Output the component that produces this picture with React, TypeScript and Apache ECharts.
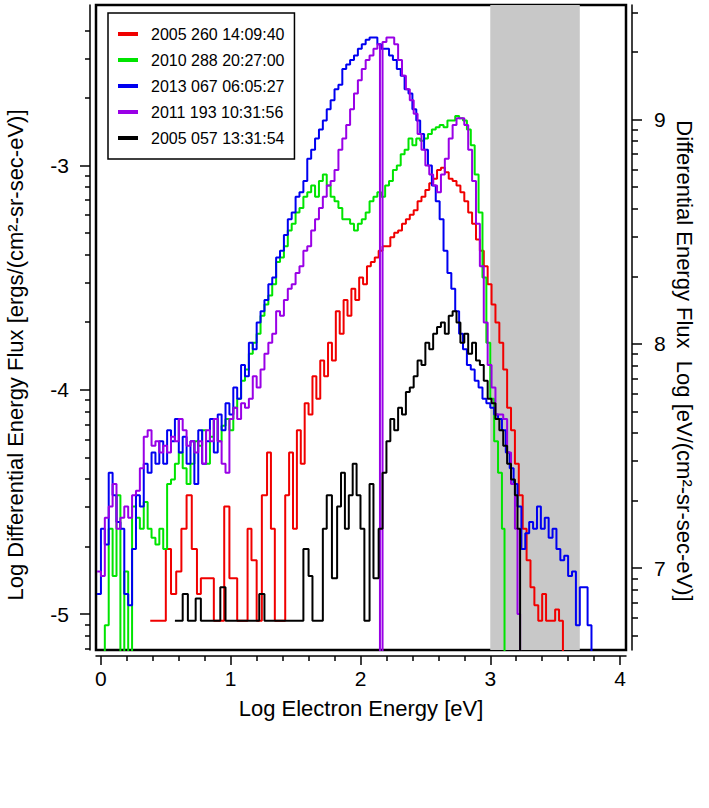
import React, { useEffect, useRef } from "react";
import * as echarts from "echarts";

const FONT = "'Liberation Sans', Arial, Helvetica, sans-serif";

const legendNames = [
  "2005 260 14:09:40",
  "2010 288 20:27:00",
  "2013 067 06:05:27",
  "2011 193 10:31:56",
  "2005 057 13:31:54",
];
const lineColors = ["#f00000", "#00e400", "#0000f0", "#9900e6", "#000000"];

// [log energy, log flux (ergs)]
const red: [number, number][] = [
  [0.38, -5.03], [0.5, -4.71], [0.54, -4.91], [0.58, -4.81], [0.62, -4.62], [0.66, -4.47],
  [0.7, -4.71], [0.74, -4.91], [0.77, -4.84], [0.87, -5.03], [0.95, -4.52], [0.99, -4.84],
  [1.05, -5.03], [1.13, -4.62], [1.16, -4.76], [1.2, -5.03], [1.24, -4.47], [1.28, -4.28],
  [1.31, -4.62], [1.34, -5.03], [1.42, -4.47], [1.45, -4.28], [1.48, -4.62], [1.51, -4.18],
  [1.54, -4.33], [1.57, -4.06], [1.6, -4.11], [1.63, -3.94], [1.66, -4.04], [1.69, -3.87],
  [1.72, -3.94], [1.75, -3.79], [1.78, -3.87], [1.81, -3.65], [1.84, -3.75], [1.87, -3.6],
  [1.9, -3.67], [1.93, -3.55], [1.96, -3.6], [1.99, -3.5], [2.02, -3.53], [2.05, -3.45],
  [2.08, -3.43], [2.11, -3.41], [2.14, -3.38], [2.17, -3.36], [2.2, -3.36], [2.23, -3.32],
  [2.26, -3.3], [2.29, -3.29], [2.32, -3.26], [2.35, -3.24], [2.38, -3.22], [2.41, -3.2],
  [2.44, -3.16], [2.47, -3.14], [2.5, -3.11], [2.53, -3.08], [2.56, -3.06], [2.59, -3.02],
  [2.62, -3.01], [2.65, -3.03], [2.68, -3.06], [2.71, -3.07], [2.74, -3.09], [2.77, -3.12],
  [2.8, -3.16], [2.83, -3.21], [2.86, -3.26], [2.89, -3.33], [2.92, -3.38], [2.95, -3.45],
  [2.98, -3.53], [3.01, -3.62], [3.04, -3.7], [3.07, -3.79], [3.1, -3.91], [3.13, -4.08],
  [3.16, -4.18], [3.19, -4.33], [3.22, -4.47], [3.25, -4.62], [3.28, -4.76], [3.31, -4.88],
  [3.34, -4.96], [3.37, -5.03], [3.4, -4.91], [3.43, -5.03], [3.5, -4.98], [3.53, -5.03],
  [3.56, -5.3],
];

const green: [number, number][] = [
  [-0.03, -5.3], [0.03, -5.05], [0.06, -4.62], [0.09, -4.83], [0.12, -4.47], [0.15, -5.3],
  [0.18, -4.81], [0.21, -5.3], [0.24, -4.52], [0.27, -4.57], [0.3, -4.62], [0.33, -4.5],
  [0.36, -4.62], [0.39, -4.66], [0.42, -4.69], [0.45, -4.62], [0.48, -4.71], [0.51, -4.42],
  [0.54, -4.4], [0.57, -4.33], [0.6, -4.28], [0.63, -4.35], [0.66, -4.42], [0.69, -4.33],
  [0.72, -4.23], [0.75, -4.25], [0.78, -4.18], [0.81, -4.33], [0.84, -4.21], [0.87, -4.13],
  [0.9, -4.23], [0.93, -4.16], [0.96, -4.13], [0.99, -4.18], [1.02, -4.08], [1.05, -4.04],
  [1.08, -3.96], [1.11, -3.91], [1.14, -3.84], [1.17, -3.79], [1.2, -3.75], [1.23, -3.67],
  [1.26, -3.62], [1.29, -3.58], [1.32, -3.53], [1.35, -3.43], [1.38, -3.41], [1.41, -3.36],
  [1.44, -3.29], [1.47, -3.26], [1.5, -3.21], [1.53, -3.19], [1.56, -3.14], [1.59, -3.12],
  [1.62, -3.09], [1.65, -3.14], [1.68, -3.07], [1.71, -3.04], [1.74, -3.09], [1.77, -3.14],
  [1.8, -3.16], [1.83, -3.19], [1.86, -3.24], [1.89, -3.24], [1.92, -3.26], [1.95, -3.29],
  [1.98, -3.26], [2.01, -3.24], [2.04, -3.21], [2.07, -3.16], [2.1, -3.14], [2.13, -3.12],
  [2.16, -3.14], [2.19, -3.09], [2.22, -3.07], [2.25, -3.02], [2.28, -3.0], [2.31, -2.95],
  [2.34, -2.93], [2.37, -2.88], [2.4, -2.91], [2.43, -2.88], [2.46, -2.89], [2.49, -2.88],
  [2.52, -2.86], [2.55, -2.84], [2.58, -2.83], [2.61, -2.82], [2.64, -2.83], [2.67, -2.8],
  [2.7, -2.8], [2.73, -2.78], [2.76, -2.79], [2.79, -2.8], [2.82, -2.84], [2.85, -2.91],
  [2.88, -3.04], [2.91, -3.21], [2.94, -3.5], [2.97, -3.79], [3.0, -4.04], [3.03, -4.23],
  [3.06, -4.37], [3.09, -4.62], [3.11, -5.3],
];

const blue: [number, number][] = [
  [-0.03, -4.91], [0.0, -4.62], [0.03, -4.69], [0.06, -4.37], [0.09, -4.47], [0.12, -4.59],
  [0.15, -4.62], [0.18, -4.91], [0.21, -4.96], [0.24, -4.71], [0.27, -4.47], [0.3, -4.52],
  [0.33, -4.33], [0.36, -4.37], [0.39, -4.28], [0.42, -4.33], [0.45, -4.23], [0.48, -4.33],
  [0.51, -4.18], [0.54, -4.23], [0.57, -4.13], [0.6, -4.28], [0.63, -4.21], [0.66, -4.33],
  [0.69, -4.23], [0.72, -4.42], [0.75, -4.18], [0.78, -4.33], [0.81, -4.23], [0.84, -4.13],
  [0.87, -4.28], [0.9, -4.11], [0.93, -4.18], [0.96, -4.06], [0.99, -4.11], [1.02, -3.99],
  [1.05, -4.04], [1.08, -3.89], [1.11, -3.94], [1.14, -3.79], [1.17, -3.82], [1.2, -3.7],
  [1.23, -3.65], [1.26, -3.6], [1.29, -3.53], [1.32, -3.5], [1.35, -3.41], [1.38, -3.38],
  [1.41, -3.31], [1.44, -3.24], [1.47, -3.21], [1.5, -3.14], [1.53, -3.12], [1.56, -3.07],
  [1.59, -2.97], [1.62, -2.93], [1.65, -2.88], [1.68, -2.84], [1.71, -2.8], [1.74, -2.75],
  [1.77, -2.71], [1.8, -2.66], [1.83, -2.64], [1.86, -2.57], [1.89, -2.55], [1.92, -2.53],
  [1.95, -2.51], [1.98, -2.48], [2.01, -2.46], [2.04, -2.44], [2.07, -2.43], [2.1, -2.43],
  [2.13, -2.46], [2.16, -2.48], [2.19, -2.48], [2.22, -2.51], [2.25, -2.53], [2.28, -2.57],
  [2.31, -2.6], [2.34, -2.66], [2.37, -2.68], [2.4, -2.75], [2.43, -2.8], [2.46, -2.86],
  [2.49, -2.93], [2.52, -3.0], [2.55, -3.09], [2.58, -3.16], [2.61, -3.24], [2.64, -3.38],
  [2.67, -3.48], [2.7, -3.55], [2.73, -3.65], [2.76, -3.75], [2.79, -3.82], [2.82, -3.89],
  [2.85, -3.91], [2.88, -3.96], [2.91, -3.99], [2.94, -4.04], [2.97, -4.06], [3.0, -4.08],
  [3.03, -4.11], [3.06, -4.13], [3.09, -4.18], [3.12, -4.28], [3.15, -4.35], [3.18, -4.42],
  [3.21, -4.52], [3.24, -4.71], [3.27, -4.64], [3.3, -4.59], [3.33, -4.62], [3.36, -4.52],
  [3.39, -4.62], [3.42, -4.57], [3.45, -4.66], [3.48, -4.62], [3.51, -4.71], [3.54, -4.76],
  [3.57, -4.74], [3.6, -4.83], [3.63, -4.81], [3.66, -5.05], [3.69, -4.88], [3.72, -4.88],
  [3.75, -5.05], [3.78, -5.3],
];

const purple: [number, number][] = [
  [-0.03, -4.81], [0.0, -4.83], [0.03, -4.57], [0.06, -4.52], [0.09, -4.42], [0.12, -4.62],
  [0.15, -4.57], [0.18, -4.52], [0.21, -4.57], [0.24, -4.47], [0.27, -4.45], [0.3, -4.35],
  [0.33, -4.21], [0.36, -4.18], [0.39, -4.25], [0.42, -4.23], [0.45, -4.28], [0.48, -4.25],
  [0.51, -4.28], [0.54, -4.21], [0.57, -4.23], [0.6, -4.13], [0.63, -4.18], [0.66, -4.25],
  [0.69, -4.23], [0.72, -4.28], [0.75, -4.23], [0.78, -4.33], [0.81, -4.18], [0.84, -4.23],
  [0.87, -4.13], [0.9, -4.23], [0.93, -4.33], [0.96, -4.37], [0.99, -4.13], [1.02, -4.08],
  [1.05, -4.13], [1.08, -4.06], [1.11, -4.08], [1.14, -4.04], [1.17, -3.94], [1.2, -3.99],
  [1.23, -3.91], [1.26, -3.84], [1.29, -3.79], [1.32, -3.75], [1.35, -3.65], [1.38, -3.67],
  [1.41, -3.6], [1.44, -3.55], [1.47, -3.53], [1.5, -3.48], [1.53, -3.45], [1.56, -3.38],
  [1.59, -3.36], [1.62, -3.29], [1.65, -3.24], [1.68, -3.19], [1.71, -3.14], [1.74, -3.09],
  [1.77, -3.07], [1.8, -3.02], [1.83, -2.93], [1.86, -2.88], [1.89, -2.82], [1.92, -2.75],
  [1.95, -2.68], [1.98, -2.62], [2.01, -2.57], [2.04, -2.53], [2.07, -2.51], [2.1, -2.48],
  [2.13, -2.46], [2.15, -5.3], [2.17, -2.45], [2.2, -2.43], [2.23, -2.43], [2.26, -2.46],
  [2.29, -2.53], [2.32, -2.6], [2.35, -2.66], [2.38, -2.71], [2.41, -2.77], [2.44, -2.86],
  [2.47, -2.93], [2.5, -3.0], [2.53, -3.04], [2.56, -3.09], [2.59, -3.12], [2.62, -3.04],
  [2.65, -2.97], [2.68, -2.88], [2.71, -2.82], [2.74, -2.79], [2.77, -2.79], [2.8, -2.82],
  [2.83, -2.93], [2.86, -3.07], [2.89, -3.26], [2.92, -3.45], [2.95, -3.7], [2.98, -3.89],
  [3.01, -3.99], [3.04, -4.11], [3.07, -4.11], [3.1, -4.13], [3.13, -4.28], [3.16, -4.42],
  [3.19, -4.62], [3.21, -5.0], [3.23, -5.3],
];

const black: [number, number][] = [
  [0.57, -5.03], [0.63, -4.91], [0.67, -5.03], [0.73, -4.93], [0.77, -5.03], [0.92, -4.88],
  [0.96, -5.03], [1.22, -4.91], [1.26, -5.03], [1.56, -4.71], [1.6, -4.83], [1.63, -5.03],
  [1.71, -4.62], [1.74, -4.47], [1.78, -4.84], [1.82, -4.52], [1.85, -4.37], [1.88, -4.62],
  [1.91, -4.47], [1.94, -4.33], [1.97, -4.47], [2.0, -4.62], [2.03, -5.03], [2.07, -4.42],
  [2.1, -4.84], [2.14, -4.62], [2.17, -4.37], [2.2, -4.23], [2.23, -4.13], [2.26, -4.18],
  [2.29, -4.08], [2.32, -4.11], [2.35, -4.01], [2.38, -3.99], [2.41, -3.94], [2.44, -3.87],
  [2.47, -3.89], [2.5, -3.79], [2.53, -3.82], [2.56, -3.75], [2.59, -3.72], [2.62, -3.7],
  [2.65, -3.75], [2.68, -3.67], [2.71, -3.65], [2.74, -3.7], [2.77, -3.79], [2.8, -3.75],
  [2.83, -3.84], [2.86, -3.79], [2.89, -3.87], [2.92, -3.89], [2.95, -3.96], [2.98, -4.04],
  [3.01, -4.06], [3.04, -4.13], [3.07, -4.18], [3.1, -4.25], [3.13, -4.33], [3.16, -4.4],
  [3.19, -4.47], [3.21, -4.62], [3.23, -5.3],
];

const seriesData = [red, green, blue, purple, black];

// axes
const xRange = [-0.038, 4.046];
const xMajorTicks = [0, 1, 2, 3, 4];
const xMinorTicks = [0.2, 0.4, 0.6, 0.8, 1.2, 1.4, 1.6, 1.8, 2.2, 2.4, 2.6, 2.8, 3.2, 3.4, 3.6, 3.8];
const leftRange = [-5.16, -2.285];
const leftMajorTicks = [-5, -4, -3];
const rightMajorTicks = [7, 8, 9];
const ergToEvLog = 11.7953;
const tickMantissas = [2, 3, 4, 5, 6, 7, 8, 9];
const shadedBand = [3.0, 3.69];

const leftTitle = "Log Differential Energy Flux [ergs/(cm²-sr-sec-eV)]";
const rightTitle = "Differential Energy Flux \u00a0Log [eV/(cm²-sr-sec-eV)]";
const bottomTitle = "Log Electron Energy [eV]";

const rightRange = [leftRange[0] + ergToEvLog, leftRange[1] + ergToEvLog];
const leftMinor = [-6, -5, -4, -3]
  .flatMap((d) => tickMantissas.map((m) => d + Math.log10(m)))
  .filter((v) => v > leftRange[0] && v < -2.32);
const rightMinor = [6, 7, 8, 9]
  .flatMap((d) => tickMantissas.map((m) => d + Math.log10(m)))
  .filter((v) => v > rightRange[0] && v < rightRange[1]);

const tickLine = { color: "#000", width: 1.5 };
const labelStyle = { fontSize: 21, color: "#000", fontFamily: FONT };

function buildOption(): any {
  const yAxisCommon = { type: "value", splitLine: { show: false }, offset: 6 };
  return {
    animation: false,
    backgroundColor: "#fff",
    grid: {
      left: 96,
      top: 5,
      width: 530,
      height: 645,
      show: true,
      borderColor: "#000",
      borderWidth: 2.5,
      backgroundColor: "transparent",
      containLabel: false,
    },
    legend: {
      data: legendNames,
      orient: "vertical",
      left: 108,
      top: 13,
      itemWidth: 20,
      itemHeight: 4,
      itemGap: 0,
      icon: "rect",
      padding: [8, 10, 8, 10],
      borderColor: "#000",
      borderWidth: 1.5,
      backgroundColor: "#fff",
      selectedMode: false,
      textStyle: { fontSize: 16, lineHeight: 26, color: "#000", fontFamily: FONT, padding: [0, 0, 0, 8] },
    },
    xAxis: [
      {
        type: "value",
        min: xRange[0],
        max: xRange[1],
        position: "bottom",
        offset: 6,
        axisLine: { show: true, onZero: false, lineStyle: tickLine },
        axisTick: { show: true, length: 9, customValues: xMajorTicks, lineStyle: tickLine },
        axisLabel: { ...labelStyle, customValues: xMajorTicks, margin: 12 },
        splitLine: { show: false },
      },
      {
        type: "value",
        min: xRange[0],
        max: xRange[1],
        position: "bottom",
        offset: 6,
        axisLine: { show: false, onZero: false },
        axisTick: { show: true, length: 5, customValues: xMinorTicks, lineStyle: tickLine },
        axisLabel: { show: false },
        splitLine: { show: false },
      },
    ],
    yAxis: [
      {
        ...yAxisCommon,
        min: leftRange[0],
        max: leftRange[1],
        position: "left",
        axisLine: { show: true, onZero: false, lineStyle: tickLine },
        axisTick: { show: true, length: 10, customValues: leftMajorTicks, lineStyle: tickLine },
        axisLabel: { ...labelStyle, customValues: leftMajorTicks, margin: 21 },
      },
      {
        ...yAxisCommon,
        min: leftRange[0],
        max: leftRange[1],
        position: "left",
        axisLine: { show: false, onZero: false },
        axisTick: { show: true, length: 5, customValues: leftMinor, lineStyle: tickLine },
        axisLabel: { show: false },
      },
      {
        ...yAxisCommon,
        min: rightRange[0],
        max: rightRange[1],
        position: "right",
        axisLine: { show: true, onZero: false, lineStyle: tickLine },
        axisTick: { show: true, length: 10, customValues: rightMajorTicks, lineStyle: tickLine },
        axisLabel: { ...labelStyle, customValues: rightMajorTicks, margin: 22 },
      },
      {
        ...yAxisCommon,
        min: rightRange[0],
        max: rightRange[1],
        position: "right",
        axisLine: { show: false, onZero: false },
        axisTick: { show: true, length: 6, customValues: rightMinor, lineStyle: tickLine },
        axisLabel: { show: false },
      },
    ],
    graphic: [
      {
        type: "text",
        x: 15,
        y: 355,
        rotation: Math.PI / 2,
        style: { text: leftTitle, font: `22px ${FONT}`, fill: "#000", align: "center", verticalAlign: "middle" },
      },
      {
        type: "text",
        x: 684,
        y: 361,
        rotation: -Math.PI / 2,
        style: { text: rightTitle, font: `22px ${FONT}`, fill: "#000", align: "center", verticalAlign: "middle" },
      },
      {
        type: "text",
        x: 361,
        y: 708,
        style: { text: bottomTitle, font: `22px ${FONT}`, fill: "#000", align: "center", verticalAlign: "middle" },
      },
    ],
    series: [
      {
        type: "line",
        name: "band",
        data: [],
        silent: true,
        z: 1,
        xAxisIndex: 0,
        yAxisIndex: 0,
        markArea: {
          silent: true,
          itemStyle: { color: "#c8c8c8" },
          data: [[{ xAxis: shadedBand[0] }, { xAxis: shadedBand[1] }]],
        },
      },
      ...seriesData.map((d, i) => ({
        type: "line",
        name: legendNames[i],
        data: d,
        step: "end",
        xAxisIndex: 0,
        yAxisIndex: 0,
        showSymbol: false,
        symbol: "none",
        clip: true,
        z: 3 + i,
        color: lineColors[i],
        lineStyle: { color: lineColors[i], width: 2 },
        emphasis: { disabled: true },
      })),
    ],
  };
}

export default function App() {
  const ref = useRef<HTMLDivElement>(null);
  useEffect(() => {
    if (!ref.current) return;
    const chart = echarts.init(ref.current, null, { renderer: "svg" });
    chart.setOption(buildOption());
    return () => chart.dispose();
  }, []);
  return (
    <div
      ref={ref}
      style={{ position: "absolute", left: 0, top: 0, width: 709, height: 808, background: "#fff" }}
    />
  );
}
